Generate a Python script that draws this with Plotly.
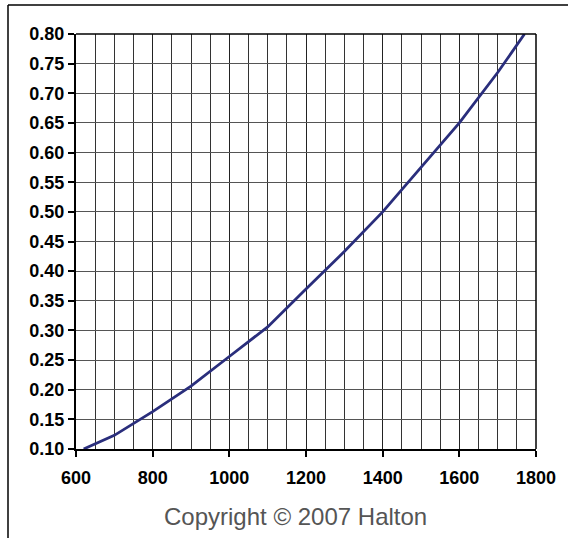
import plotly.graph_objects as go

# Data
airflow = [620, 700, 800, 900, 1000, 1100, 1200, 1300, 1400, 1500, 1600, 1700, 1770]
values = [0.10, 0.123, 0.163, 0.206, 0.256, 0.306, 0.37, 0.433, 0.50, 0.575, 0.65, 0.735, 0.80]

x_ticks = [600, 800, 1000, 1200, 1400, 1600, 1800]
y_ticks = [round(0.10 + 0.05 * i, 2) for i in range(15)]
y_tick_text = [f"{v:.2f}" for v in y_ticks]

W, H = 568, 538
L, R, T, B = 76, 32, 34, 89
pw, ph = W - L - R, H - T - B

def px_to_paper_x(px):
    return (px - L) / pw

def px_to_paper_y(py):
    return (H - B - py) / ph

fig = go.Figure()
fig.add_trace(go.Scatter(
    x=airflow, y=values, mode="lines",
    line=dict(color="#2a2e7c", width=2.8),
    showlegend=False, hoverinfo="skip",
))

tick_font = dict(family="Liberation Sans, Arial, sans-serif", size=18, color="#000000", weight="bold")

fig.update_layout(
    width=W, height=H,
    margin=dict(l=L, r=R, t=T, b=B),
    paper_bgcolor="white", plot_bgcolor="white",
    xaxis=dict(
        range=[600, 1800], tickvals=x_ticks, ticktext=[str(v) for v in x_ticks],
        showgrid=True, gridcolor="#222222", gridwidth=1,
        minor=dict(dtick=50, tick0=600, showgrid=True, gridcolor="#333333", gridwidth=1, ticks=""),
        showline=True, linecolor="#000000", linewidth=2,
        ticks="outside", ticklen=6, tickcolor="#000000", tickwidth=1.5,
        tickfont=tick_font, zeroline=False, mirror=False, ticklabelstandoff=5,
    ),
    yaxis=dict(
        range=[0.10, 0.80], tickvals=y_ticks, ticktext=y_tick_text,
        showgrid=True, gridcolor="#555555", gridwidth=1,
        showline=True, linecolor="#000000", linewidth=2,
        ticks="outside", ticklen=6, tickcolor="#000000", tickwidth=1.5,
        tickfont=tick_font, zeroline=False,
    ),
    shapes=[
        # outer frame (top and left edges visible)
        dict(type="line", xref="paper", yref="paper",
             x0=px_to_paper_x(8), x1=px_to_paper_x(570), y0=px_to_paper_y(5), y1=px_to_paper_y(5),
             line=dict(color="#000000", width=1.5)),
        dict(type="line", xref="paper", yref="paper",
             x0=px_to_paper_x(8), x1=px_to_paper_x(8), y0=px_to_paper_y(5), y1=px_to_paper_y(540),
             line=dict(color="#000000", width=1.5)),
        # top and right plot borders
        dict(type="line", xref="paper", yref="paper", x0=0, x1=1, y0=1, y1=1,
             line=dict(color="#000000", width=1.5)),
        dict(type="line", xref="paper", yref="paper", x0=1, x1=1, y0=0, y1=1,
             line=dict(color="#000000", width=1.5)),
    ],
    annotations=[
        dict(text="Copyright © 2007 Halton", xref="paper", yref="paper",
             x=px_to_paper_x(295), y=px_to_paper_y(516), xanchor="center", yanchor="middle",
             showarrow=False,
             font=dict(family="Liberation Sans, Arial, sans-serif", size=24, color="#555555")),
    ],
)

fig.write_html("out.html", config={"displayModeBar": False},
               post_script="document.body.style.margin='0';")
